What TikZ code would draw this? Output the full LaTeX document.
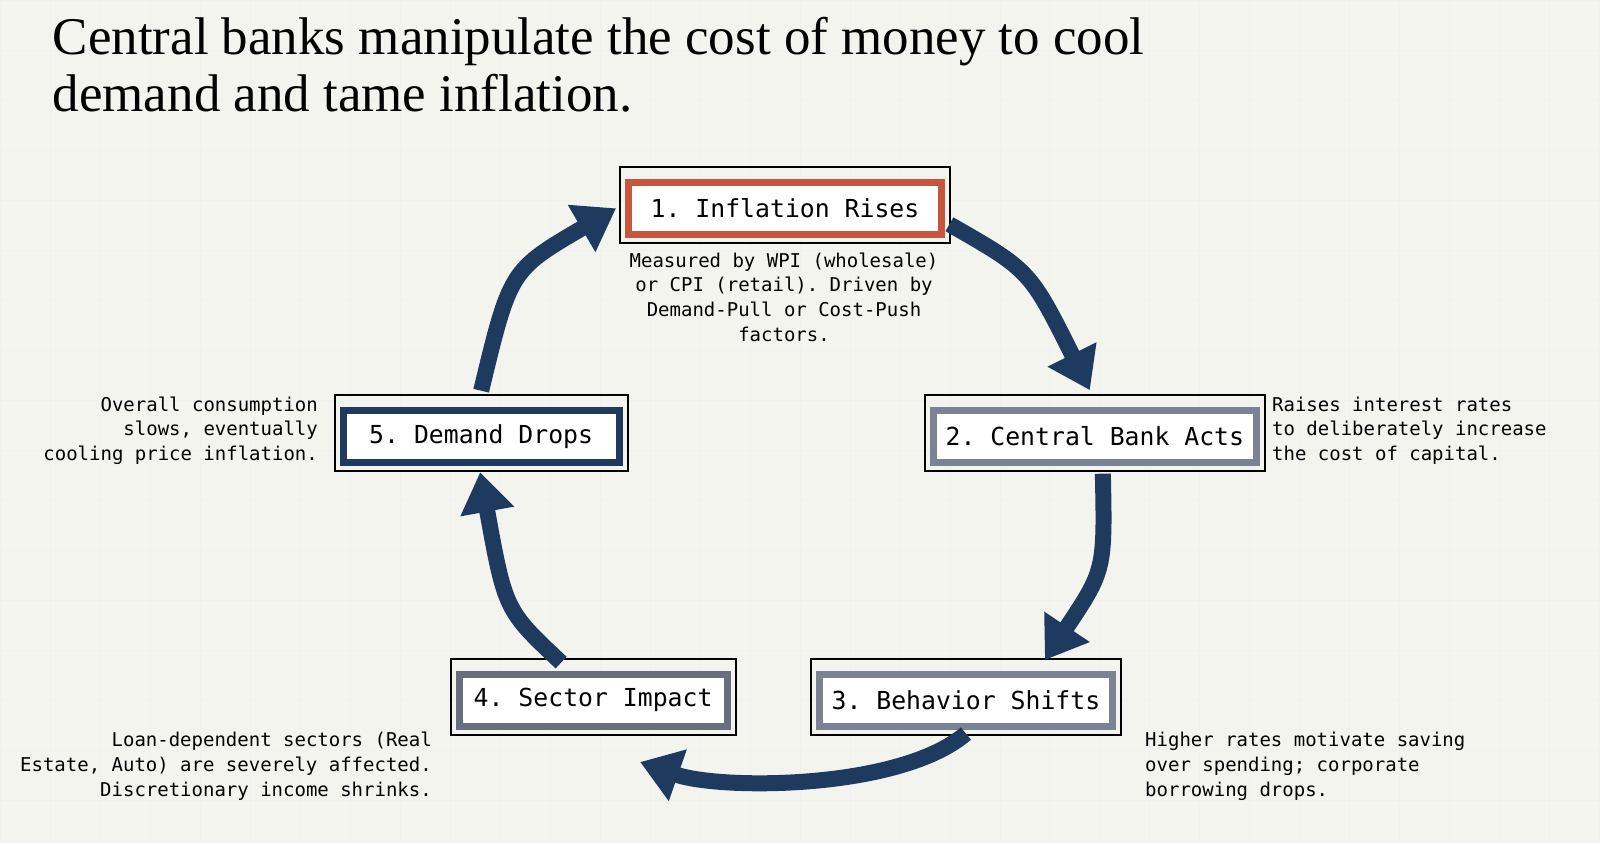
\documentclass[tikz,border=0pt]{standalone}
\usepackage{fontspec}
\setmainfont{Liberation Serif}
\setmonofont{DejaVu Sans Mono}
\usetikzlibrary{arrows.meta}
\definecolor{navy}{HTML}{1F3A5F}
\definecolor{rust}{HTML}{C8553D}
\definecolor{slate}{HTML}{7A8294}
\definecolor{paper}{HTML}{F4F4EF}
\tikzset{
  box/.style={fill=white, line width=3.5pt, inner xsep=6pt, minimum height=26pt, font=\ttfamily\fontsize{12.4}{14}\selectfont},
  desc/.style={font=\ttfamily\fontsize{9.5}{12.4}\selectfont, inner sep=0pt},
  cycle/.style={navy, line width=8pt, -{Triangle[width=26pt,length=20pt]}}
}
\newcommand{\stepbox}[5]{%
  \node[box, draw=#3, minimum width=#5] (#1) at #2 {#4};
  \draw[black, line width=1pt] ([shift={(-2.5pt,6pt)}]#1.north west) rectangle ([shift={(2.5pt,-2.5pt)}]#1.south east);
}
\begin{document}
\begin{tikzpicture}[x=0.5pt,y=-0.5pt]
  \fill[paper] (0,0) rectangle (1600,843);
  \foreach \gx in {0,50,...,1600} \draw[black!6, line width=0.4pt] (\gx,0) -- (\gx,843);
  \foreach \gy in {0,50,...,843} \draw[black!6, line width=0.4pt] (0,\gy) -- (1600,\gy);
  \useasboundingbox (0,0) rectangle (1600,843);

  \node[anchor=north west, align=left, font=\fontsize{26.5}{28.5}\selectfont, inner sep=0pt] (title) at (52,16)
    {Central banks manipulate the cost of money to cool\\demand and tame inflation.};

  % steps
  \stepbox{rises}{(785,208)}{rust}{1. Inflation Rises}{157pt}
  \stepbox{acts}{(1095,436)}{slate}{2. Central Bank Acts}{152pt}
  \stepbox{shifts}{(966,700)}{slate}{3. Behavior Shifts}{145pt}
  \stepbox{impact}{(593,700)}{slate!85!black}{4. Sector Impact}{134pt}
  \stepbox{drops}{(481,436)}{navy}{5. Demand Drops}{138pt}

  % cycle arrows
  \coordinate (a1) at (1090,390);
  \coordinate (a2) at (1045,660);
  \coordinate (a3) at (640,762);
  \coordinate (a4) at (480,472);
  \coordinate (a5) at (616,208);
  \draw[cycle] ([shift={(2pt,-8pt)}]rises.east) .. controls (1030,270) .. (a1);
  \draw[cycle] ([xshift=4pt,yshift=-4pt]acts.south) .. controls (1105,570) .. (a2);
  \draw[cycle] ([xshift=0pt,yshift=-2pt]shifts.south) .. controls (900,790) and (720,790) .. (a3);
  \draw[cycle] ([xshift=-16pt,yshift=4pt]impact.north) .. controls (505,610) .. (a4);
  \draw[cycle] ([yshift=8pt]drops.north) .. controls (510,270) .. (a5);

  % descriptions
  \node[desc, align=center, anchor=north] (d1) at (784,252) {Measured by WPI (wholesale)\\or CPI (retail). Driven by\\Demand-Pull or Cost-Push\\factors.};
  \node[desc, align=left, anchor=north west] (d2) at (1272,396) {Raises interest rates\\to deliberately increase\\the cost of capital.};
  \node[desc, align=left, anchor=north west] (d3) at (1145,732) {Higher rates motivate saving\\over spending; corporate\\borrowing drops.};
  \node[desc, align=right, anchor=north east] (d4) at (432,732) {Loan-dependent sectors (Real\\Estate, Auto) are severely affected.\\Discretionary income shrinks.};
  \node[desc, align=right, anchor=north east] (d5) at (318,396) {Overall consumption\\slows, eventually\\cooling price inflation.};
\end{tikzpicture}
\end{document}
